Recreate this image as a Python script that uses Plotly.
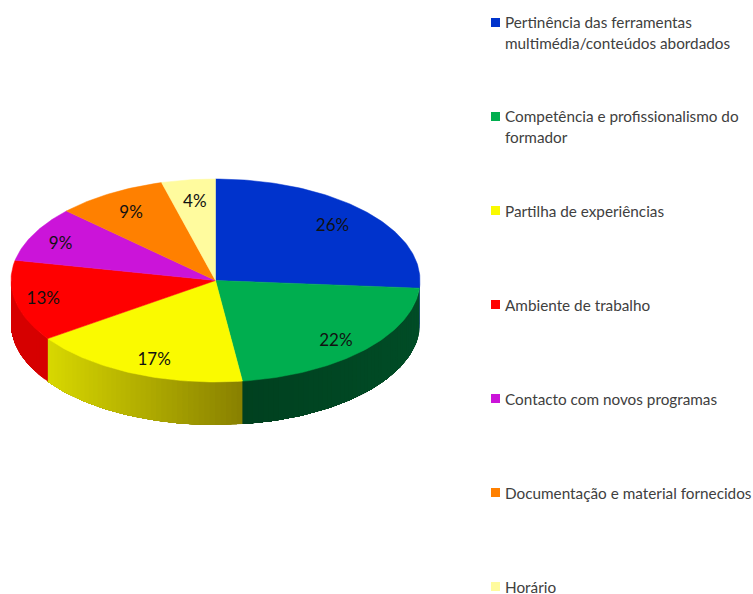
import math
import plotly.graph_objects as go

categories = [
    "Pertinência das ferramentas<br>multimédia/conteúdos abordados",
    "Competência e profissionalismo do<br>formador",
    "Partilha de experiências",
    "Ambiente de trabalho",
    "Contacto com novos programas",
    "Documentação e material fornecidos",
    "Horário",
]
values = [26.2, 21.7, 17.4, 12.9, 8.8, 8.75, 4.25]
colors = ["#0033CC", "#00AE4F", "#FAFA00", "#FF0000", "#CB14D9", "#FF8000", "#FFFB9E"]
wall_left = ["#002A90", "#00401F", "#D8D800", "#D60000", "#8F0E99", "#B35A00", "#B3B06F"]
wall_right = ["#002A90", "#004C26", "#888000", "#D60000", "#8F0E99", "#B35A00", "#B3B06F"]
label_fx = [0.78, 0.81, 0.745, 0.86, 0.853, 0.80, 0.76]
label_fy = [0.81, 0.856, 0.842, 0.83, 0.813, 0.796, 0.79]

CX, CY, RX, RY, DEPTH = 215.5, 280.5, 204.5, 101.5, 43
LABEL_DY = 2
FONT = "Lato"
FIG_W, FIG_H = 753, 594


def top_pt(deg):
    r = math.radians(deg)
    return CX + RX * math.sin(r), CY - RY * math.cos(r)


def mix(c1, c2, t):
    a = [int(c1[i:i + 2], 16) for i in (1, 3, 5)]
    b = [int(c2[i:i + 2], 16) for i in (1, 3, 5)]
    return "rgb(%d,%d,%d)" % tuple(round(p + (q - p) * t) for p, q in zip(a, b))


total = sum(values)
edges = [0.0]
for v in values:
    edges.append(edges[-1] + 360.0 * v / total)

fig = go.Figure()

# side walls, painted back to front so that no background shows between the bands
for i, v in enumerate(values):
    lo, hi = max(edges[i], 90.0), min(edges[i + 1], 270.0)
    if hi <= lo:
        continue
    n = max(1, int((hi - lo) / 1.5))
    angs = [lo + (hi - lo) * k / n for k in range(n + 1)]
    x_a, x_b = sorted((top_pt(lo)[0], top_pt(hi)[0]))
    for k in range(n):
        arc = [top_pt(a) for a in angs[k:]]
        xs = [p[0] for p in arc] + [p[0] for p in reversed(arc)]
        ys = [p[1] for p in arc] + [p[1] + DEPTH for p in reversed(arc)]
        t = ((arc[0][0] + arc[1][0]) / 2 - x_a) / max(x_b - x_a, 1e-6)
        col = mix(wall_left[i], wall_right[i], t)
        fig.add_trace(go.Scatter(
            x=xs + xs[:1], y=ys + ys[:1],
            mode="lines", fill="toself", fillcolor=col,
            line=dict(color=col, width=0), hoverinfo="skip", showlegend=False))

# top face
for i, v in enumerate(values):
    n = max(4, int((edges[i + 1] - edges[i]) / 1.0))
    pts = [top_pt(edges[i] + (edges[i + 1] - edges[i]) * k / n) for k in range(n + 1)]
    xs = [CX] + [p[0] for p in pts] + [CX]
    ys = [CY] + [p[1] for p in pts] + [CY]
    fig.add_trace(go.Scatter(
        x=xs, y=ys, mode="lines", fill="toself", fillcolor=colors[i],
        line=dict(color=colors[i], width=0.5),
        name=categories[i].replace("<br>", " "), text=f"{v:.0f}%", hoverinfo="name+text",
        showlegend=False))

# percentage labels
lx, ly, lt = [], [], []
for i, v in enumerate(values):
    mid = math.radians((edges[i] + edges[i + 1]) / 2)
    lx.append(CX + RX * label_fx[i] * math.sin(mid))
    ly.append(CY - RY * label_fy[i] * math.cos(mid) + LABEL_DY)
    lt.append(f"{v:.0f}%")
fig.add_trace(go.Scatter(
    x=lx, y=ly, text=lt, mode="text", textposition="middle center",
    textfont=dict(family=FONT, size=17, color="#111111"),
    hoverinfo="skip", showlegend=False))

# key on the right
LEG_SW_X, LEG_TXT_X, LEG_Y0, LEG_STEP = 495.5, 504, 22.5, 94.0
fig.add_trace(go.Scatter(
    x=[LEG_SW_X] * len(categories),
    y=[LEG_Y0 + LEG_STEP * i for i in range(len(categories))],
    mode="markers",
    marker=dict(symbol="square", size=9, color=colors, line=dict(width=0)),
    hoverinfo="skip", showlegend=False))

annotations = []
for i, c in enumerate(categories):
    two_lines = "<br>" in c
    styled = "<br>".join(f'<span style="font-size:15.3px">{p}</span>' for p in c.split("<br>")) if two_lines else c
    annotations.append(dict(
        x=LEG_TXT_X, y=LEG_Y0 + LEG_STEP * i - (11 if two_lines else 10), xref="x", yref="y",
        text=styled, showarrow=False, xanchor="left", yanchor="top", align="left",
        borderpad=0, font=dict(family=FONT, size=16 if two_lines else 15.3, color="#404040")))

fig.update_layout(
    width=FIG_W, height=FIG_H, margin=dict(l=0, r=0, t=0, b=0),
    paper_bgcolor="white", plot_bgcolor="white", showlegend=False,
    annotations=annotations,
    xaxis=dict(range=[0, FIG_W], visible=False, fixedrange=True),
    yaxis=dict(range=[FIG_H, 0], visible=False, fixedrange=True),
)
fig.write_html("out.html", config={"displayModeBar": False},
               default_width=f"{FIG_W}px", default_height=f"{FIG_H}px",
               post_script="document.body.style.margin='0';"
                           "document.documentElement.style.overflow='hidden';")
